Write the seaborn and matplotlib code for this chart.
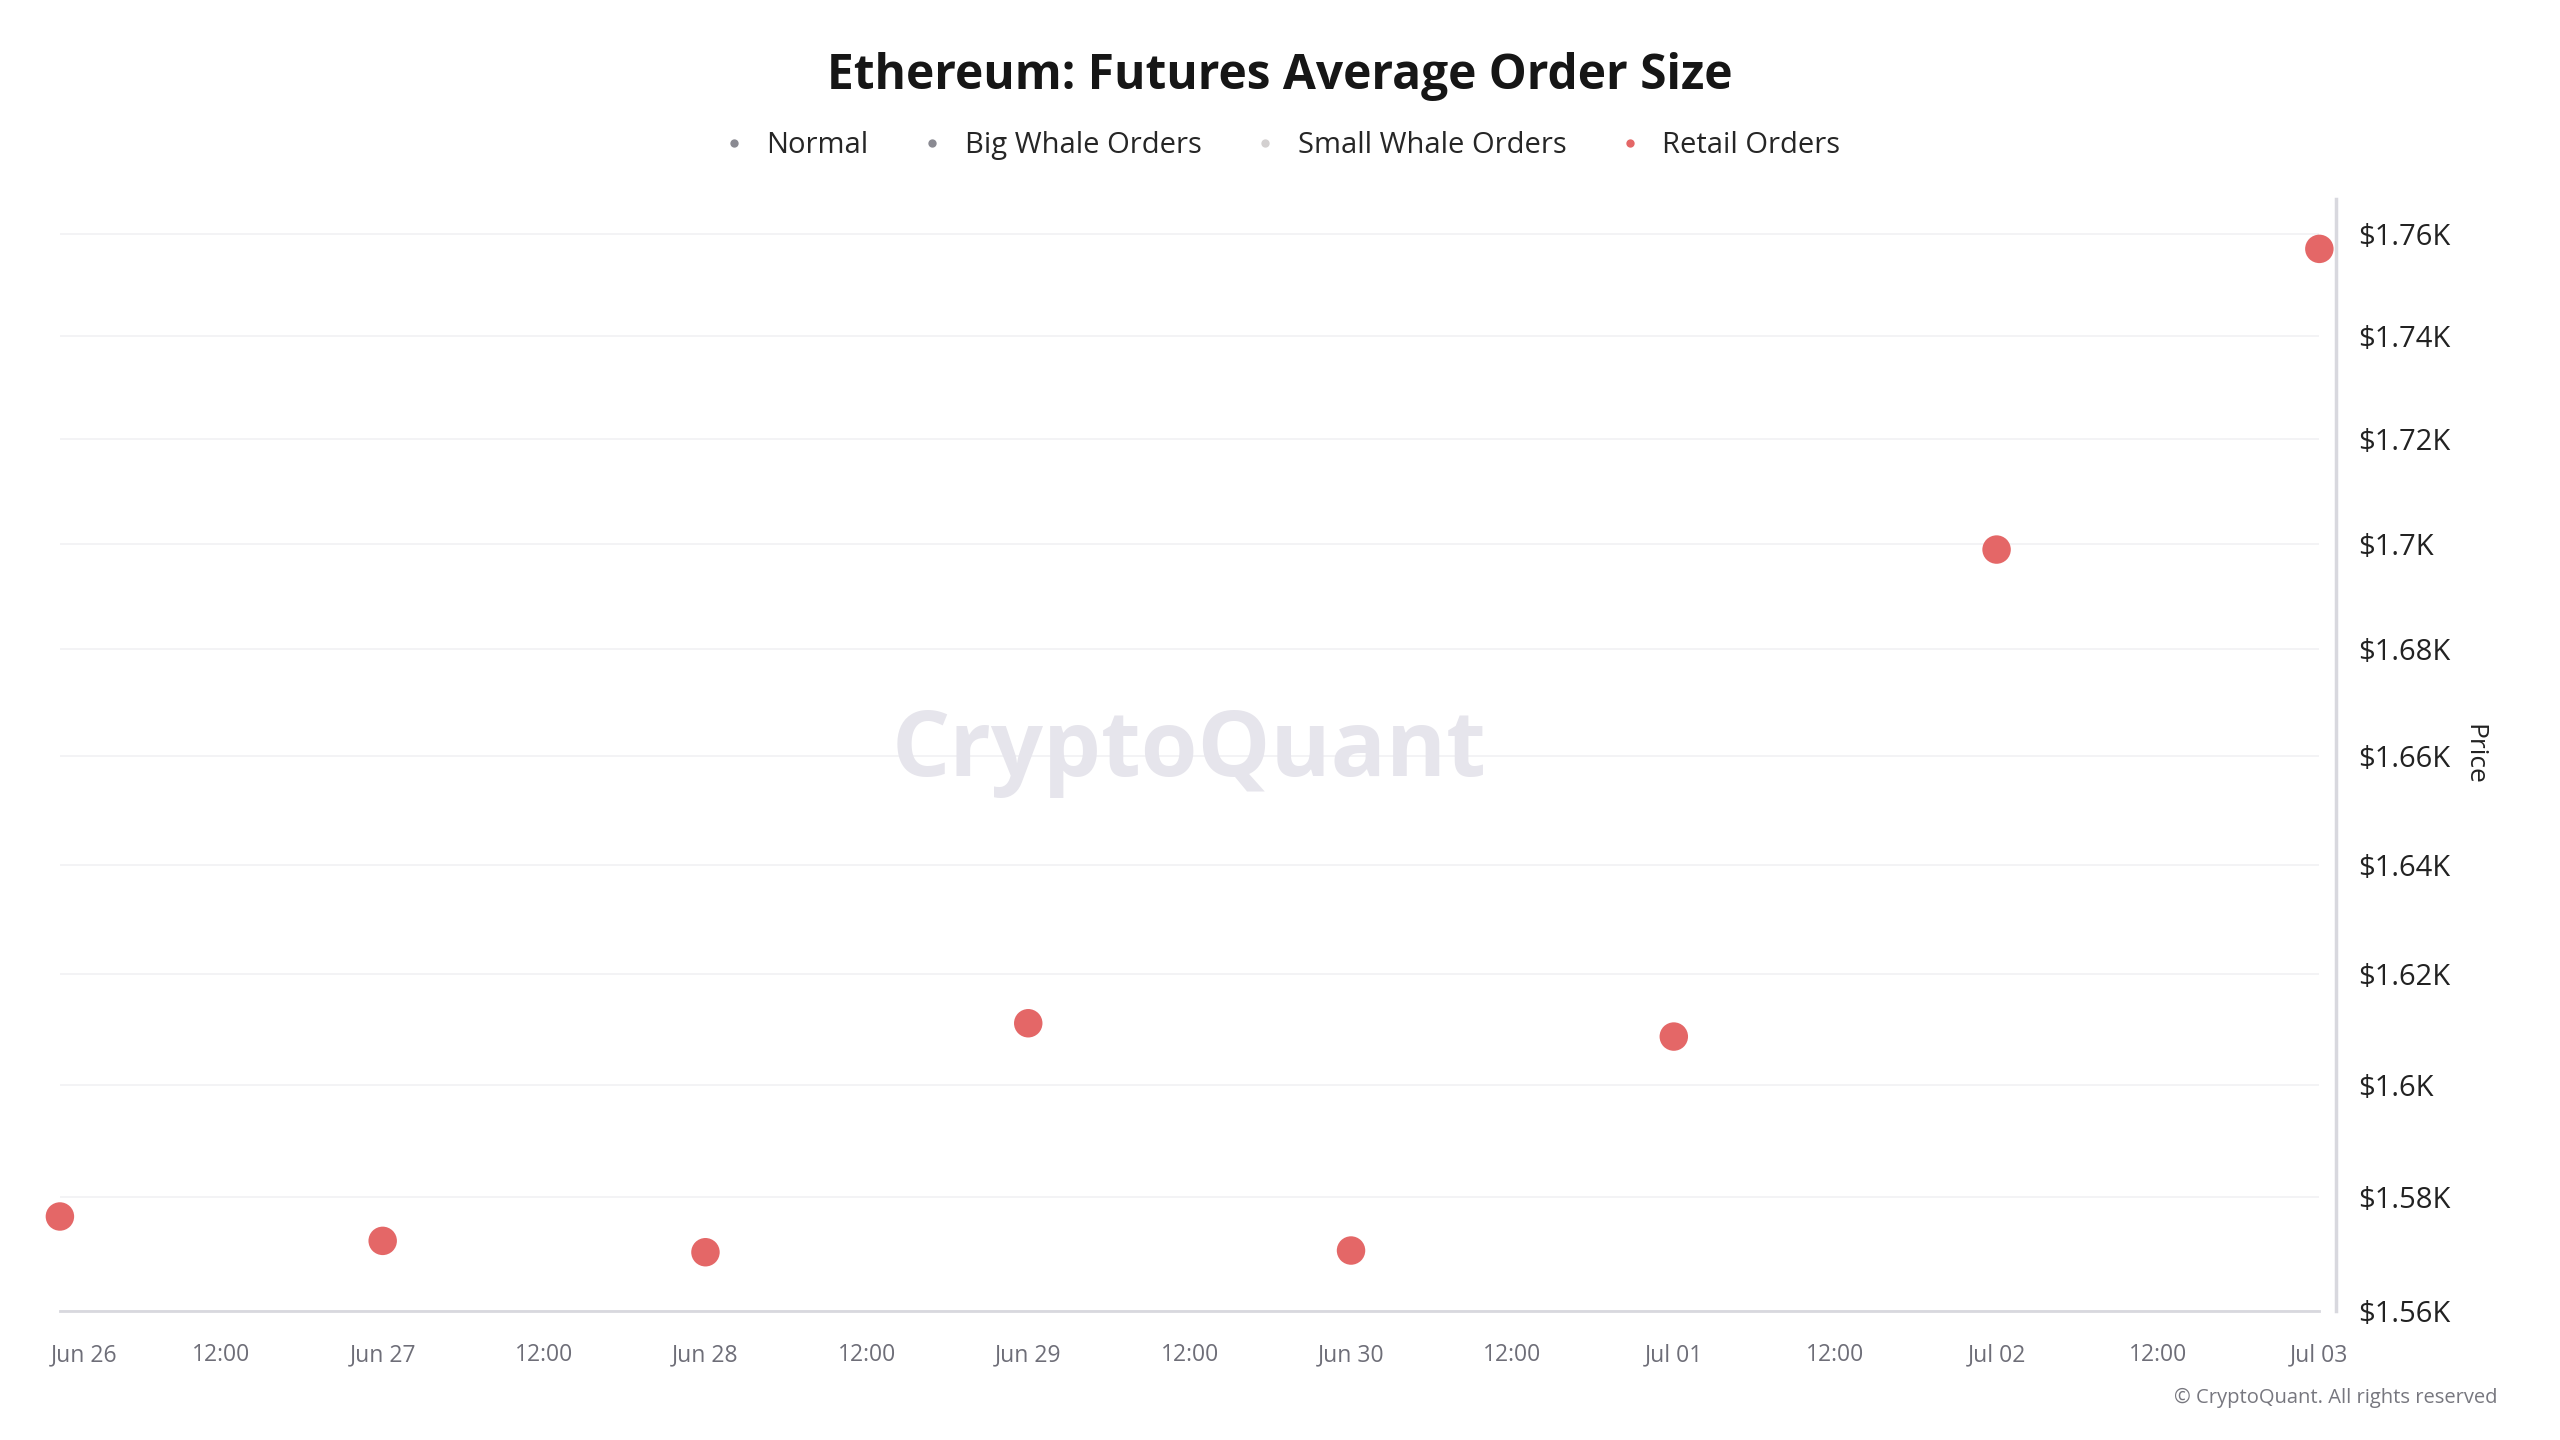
import pandas as pd
import matplotlib
matplotlib.use("Agg")
import matplotlib.pyplot as plt
import matplotlib.dates as mdates
from matplotlib.ticker import FixedLocator, FuncFormatter, NullLocator
from matplotlib.lines import Line2D
from matplotlib.transforms import ScaledTranslation
import seaborn as sns

# data
dates = ['2023-06-26', '2023-06-27', '2023-06-28', '2023-06-29',
         '2023-06-30', '2023-07-01', '2023-07-02', '2023-07-03']
price = [1576.6, 1572.3, 1570.3, 1611.1, 1570.6, 1608.7, 1698.9, 1757.1]

series_names = ['Normal', 'Big Whale Orders', 'Small Whale Orders', 'Retail Orders']
series_colors = ['#8a8a92', '#8a8a92', '#d3d0d0', '#e46767']

y_ticks = [1560, 1580, 1600, 1620, 1640, 1660, 1680, 1700, 1720, 1740, 1760]
y_labels = ['$1.56K', '$1.58K', '$1.6K', '$1.62K', '$1.64K', '$1.66K',
            '$1.68K', '$1.7K', '$1.72K', '$1.74K', '$1.76K']

df = pd.DataFrame({'date': pd.to_datetime(dates), 'price': price})

sns.set_style('white')
plt.rcParams['font.family'] = ['Open Sans', 'DejaVu Sans']

fig = plt.figure(figsize=(25.6, 14.4), dpi=100)
ax = fig.add_axes([0.0234, 0.0896, 0.8826, 0.7724])

sns.scatterplot(data=df, x='date', y='price', ax=ax, color=series_colors[3],
                s=420, edgecolor='none', clip_on=False, zorder=5, legend=False)

ax.set_yscale('log')
ax.set_ylim(1560, 1767)
ax.yaxis.set_major_locator(FixedLocator(y_ticks))
ax.yaxis.set_minor_locator(NullLocator())
ax.set_yticks(y_ticks)
ax.set_yticklabels(y_labels)
ax.yaxis.tick_right()
ax.yaxis.set_label_position('right')
ax.tick_params(axis='y', length=0, pad=16, labelsize=21, labelcolor='#222222')
ax.set_ylabel('Price', rotation=-90, fontsize=19, color='#222222', labelpad=26)
ax.grid(axis='y', color='#f1f1f3', linewidth=1.2)

x0 = pd.Timestamp('2023-06-26')
x1 = pd.Timestamp('2023-07-03')
ax.set_xlim(x0, x1)
xt = pd.date_range(x0, x1, freq='12h')
ax.set_xticks(mdates.date2num(xt))


def fmt(v, pos):
    d = mdates.num2date(v)
    if d.hour == 12:
        return '12:00'
    return d.strftime('%b %d')


ax.xaxis.set_major_formatter(FuncFormatter(fmt))
ax.tick_params(axis='x', length=15, width=1.2, color='#dcdce2', pad=8,
               labelsize=16.5, labelcolor='#6e6e78')
ax.set_xlabel('')
# first label is pushed right so it stays on the page
first = ax.get_xticklabels()[0]
first.set_transform(first.get_transform() + ScaledTranslation(0.24, 0, fig.dpi_scale_trans))

for s in ['top', 'left']:
    ax.spines[s].set_visible(False)
ax.spines['bottom'].set_color('#d8d8de')
ax.spines['bottom'].set_linewidth(2)
ax.spines['right'].set_color('#d8d8de')
ax.spines['right'].set_linewidth(2.5)
ax.spines['right'].set_position(('outward', 12))

fig.text(0.5, 0.947, 'Ethereum: Futures Average Order Size', ha='center',
         va='center', fontsize=34.5, fontweight='bold', color='#161616')

handles = [Line2D([], [], marker='o', linestyle='', markersize=6,
                  markerfacecolor=c, markeredgecolor='none') for c in series_colors]
fig.legend(handles, series_names, loc='center', bbox_to_anchor=(0.5, 0.899),
           ncol=4, frameon=False, fontsize=21, handletextpad=0.6,
           columnspacing=1.7, handlelength=1.0)

fig.text(0.4645, 0.478, 'CryptoQuant', ha='center', va='center', fontsize=66,
         fontweight='bold', color='#e6e5ec', zorder=0)

fig.text(0.9754, 0.0292, '\u00a9 CryptoQuant. All rights reserved', ha='right',
         va='center', fontsize=14.5, color='#77777f')

fig.savefig('out.png', dpi=100, facecolor='white')
